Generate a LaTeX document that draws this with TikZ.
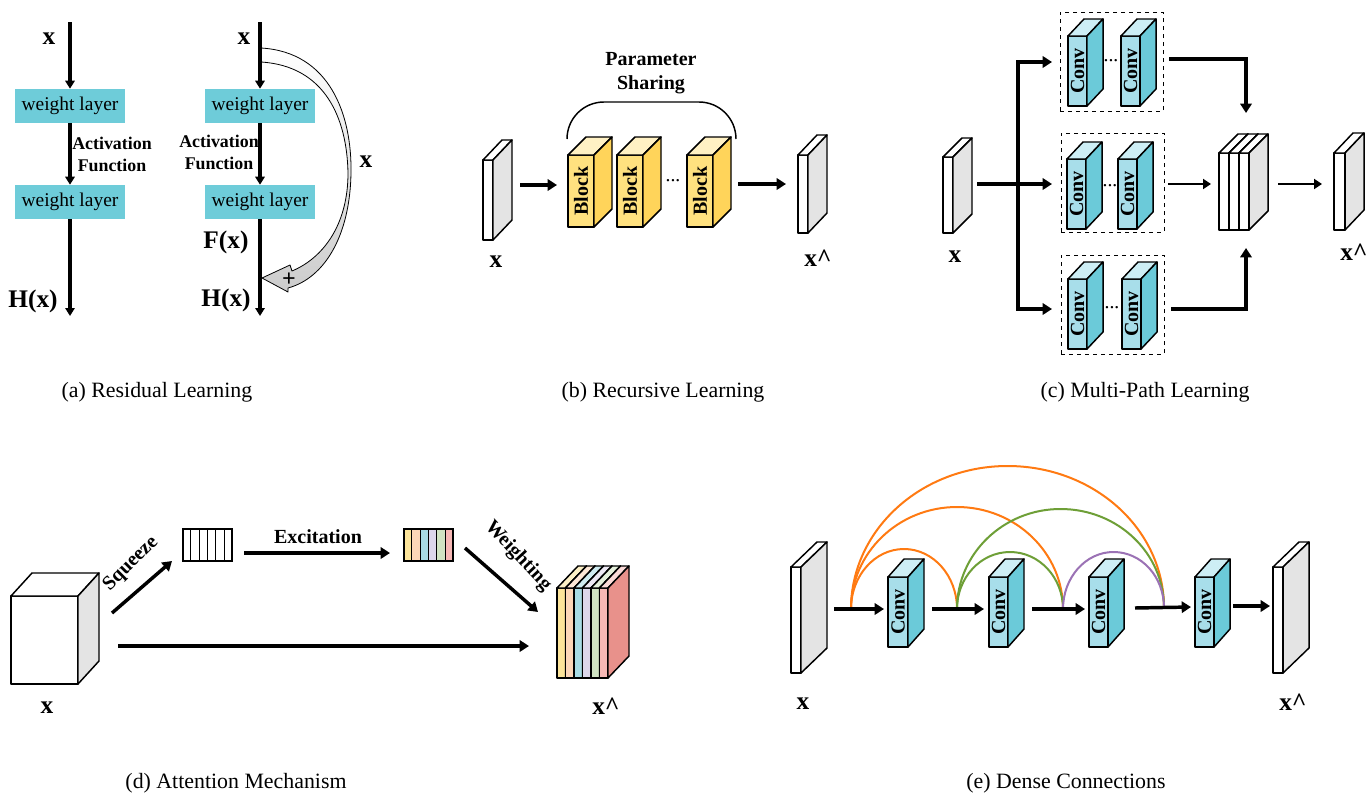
\documentclass[tikz,border=0pt]{standalone}
\usepackage{fontspec}
\setmainfont{Liberation Serif}
\usetikzlibrary{arrows.meta,fit,calc}

% face colours of the 3-D boxes: <palette>F front, <palette>T top, <palette>S side
\definecolor{wlcyan}{HTML}{6ECCD9}
\definecolor{slabF}{HTML}{FFFFFF}\definecolor{slabT}{HTML}{FFFFFF}\definecolor{slabS}{HTML}{E4E4E4}
\definecolor{convF}{HTML}{A8DEEA}\definecolor{convT}{HTML}{CDEEF5}\definecolor{convS}{HTML}{6BCAD9}
\definecolor{blockF}{HTML}{FFE17F}\definecolor{blockT}{HTML}{FFF1C4}\definecolor{blockS}{HTML}{FFD45A}
\definecolor{sAF}{HTML}{FCE49A}\definecolor{sAT}{HTML}{FDF0C6}\definecolor{sAS}{HTML}{E8918B}
\definecolor{sBF}{HTML}{FCD6B8}\definecolor{sBT}{HTML}{FDE7D6}\definecolor{sBS}{HTML}{E8918B}
\definecolor{sCF}{HTML}{A8DBE4}\definecolor{sCT}{HTML}{CFEBF0}\definecolor{sCS}{HTML}{E8918B}
\definecolor{sDF}{HTML}{DCD6EA}\definecolor{sDT}{HTML}{ECE8F3}\definecolor{sDS}{HTML}{E8918B}
\definecolor{sEF}{HTML}{D0E3C2}\definecolor{sET}{HTML}{E5F0DC}\definecolor{sES}{HTML}{E8918B}
\definecolor{sGF}{HTML}{F6B8B5}\definecolor{sGT}{HTML}{FADAD8}\definecolor{sGS}{HTML}{E8918B}
\definecolor{arcO}{HTML}{FF7A12}
\definecolor{arcG}{HTML}{6E9F37}
\definecolor{arcP}{HTML}{9B72B5}

\tikzset{
  cubeface/.style={draw=black, line width=1.1pt, line join=round, inner sep=0pt, outer sep=0pt},
  lbl/.style={font=\bfseries\fontsize{19}{20}\selectfont, inner sep=0pt},
  captext/.style={font=\fontsize{16.4}{18}\selectfont},
  wl/.style={fill=wlcyan, minimum width=82.5pt, minimum height=25.5pt, inner sep=0pt,
             font=\fontsize{14.6}{16}\selectfont},
  act/.style={font=\bfseries\fontsize{13.4}{16.5}\selectfont, align=center, inner sep=0pt},
  rottxt/.style={rotate=90, font=\bfseries\fontsize{15}{15}\selectfont, inner sep=0pt},
  btxt/.style={font=\bfseries\fontsize{15}{17.5}\selectfont, align=center, inner sep=0pt},
  dottxt/.style={font=\bfseries\fontsize{11}{11}\selectfont, inner sep=0pt},
  arr/.style={line width=2.6pt, -{Triangle[length=7pt,width=8.5pt]}},
  arrthin/.style={line width=1.9pt, -{Triangle[length=6pt,width=7.5pt]}},
  arrA/.style={line width=2.4pt, -{Triangle[length=6pt,width=7pt]}},
  arcline/.style={line width=1.5pt},
}

% \cuboid{name}{x1}{y1}{x2}{y2}{dx}{dy}{palette}: front face from (x1,y1) to (x2,y2), depth (dx,dy)
\newcommand\cuboid[8]{%
  \coordinate (#1-nw) at (#2,#3);
  \coordinate (#1-se) at (#4,#5);
  \node[cubeface, fill=#8F, fit=(#1-nw)(#1-se)] (#1) {};
  \draw[cubeface, fill=#8T] (#1.north west) -- ($(#1.north west)+(#6,#7)$)
       -- ($(#1.north east)+(#6,#7)$) -- (#1.north east) -- cycle;
  \draw[cubeface, fill=#8S] (#1.north east) -- ($(#1.north east)+(#6,#7)$)
       -- ($(#1.south east)+(#6,#7)$) -- (#1.south east) -- cycle;
}

% \halfarc[style]{from}{to}{height in px}: half-ellipse over a connection
\newcommand\halfarc[4][]{%
  \draw[arcline,#1] let \p1=(#2), \p2=(#3), \n1={(\x2-\x1)/2}, \n2={#4*0.75pt} in
    (\p1) .. controls (\x1,\y1+0.5523*\n2) and (\x1+0.4477*\n1,\y1+\n2) .. (\x1+\n1,\y1+\n2)
          .. controls (\x1+1.5523*\n1,\y1+\n2) and (\x2,\y2+0.5523*\n2) .. (\p2);
}

\begin{document}
\begin{tikzpicture}[x=0.75pt, y=-0.75pt]
\useasboundingbox (0,0) rectangle (1366,796);
\fill[white] (0,0) rectangle (1366,796);

%% ---------------- (a) residual learning ----------------
\node[wl] (wa1) at (70,106) {weight layer};
\node[wl] (wa2) at (70,202) {weight layer};
\coordinate (ta) at (70,22);
\coordinate (ea) at (70,316);
\draw[arrA] (ta) -- (wa1);
\draw[arrA] (wa1) -- (wa2);
\draw[arrA] (wa2) -- (ea);
\node[lbl] (xa) at (49,39) {x};
\node[act] (acta) at (112,154) {Activation\\Function};
\node[lbl] (ha) at (33,301) {H(x)};

% shortcut band with hollow head
\shade[top color=white, bottom color=gray!40, draw=black, line width=0.6pt, line join=round]
  (261,48) .. controls (330,52) and (352,115) .. (351,173)
           .. controls (350,235) and (325,278) .. (288,288)
  -- (288,292) -- (262,278) -- (290,265) -- (292,271)
           .. controls (323,258) and (348,225) .. (348,173)
           .. controls (347,118) and (325,66) .. (261,62);
\node[wl] (wb1) at (260,106) {weight layer};
\node[wl] (wb2) at (260,202) {weight layer};
\coordinate (tb) at (260,22);
\coordinate (eb) at (260,316);
\draw[arrA] (tb) -- (wb1);
\draw[arrA] (wb1) -- (wb2);
\draw[arrA] (wb2) -- (eb);
\node[font=\bfseries\fontsize{18}{18}\selectfont, inner sep=0pt] (plus) at (289,280) {+};
\node[lbl] (xb) at (244,39) {x};
\node[act] (actb) at (219,152) {Activation\\Function};
\node[lbl] (fb) at (226,242) {F(x)};
\node[lbl] (hb) at (226,300) {H(x)};
\node[lbl] (xskip) at (366,162) {x};
\node[captext] (capa) at (157,392) {(a) Residual Learning};

%% ---------------- (b) recursive learning ----------------
\cuboid{bin}{483}{160}{493}{240}{19}{-20}{slab}
\cuboid{blk1}{568}{155}{594}{227}{18}{-18}{block}
\cuboid{blk2}{617}{155}{643}{227}{18}{-18}{block}
\cuboid{blk3}{687}{155}{713}{227}{18}{-18}{block}
\cuboid{bout}{798}{155}{808}{233}{19}{-20}{slab}
\node[rottxt] (blk1t) at (blk1) {Block};
\node[rottxt] (blk2t) at (blk2) {Block};
\node[rottxt] (blk3t) at (blk3) {Block};
\node[dottxt] (bdots) at (673,182) {···};
\coordinate (b1s) at (520,185);
\coordinate (b1e) at (557,185);
\coordinate (b2s) at (738,184);
\coordinate (b2e) at (786,184);
\draw[arr] (b1s) -- (b1e);
\draw[arr] (b2s) -- (b2e);
\coordinate (brl) at (567,139);
\coordinate (brr) at (736,139);
\draw[line width=1.1pt] (brl) to[out=90,in=180] (604,102) -- (699,102) to[out=0,in=90] (brr);
\node[btxt] (share) at (651,73) {Parameter\\Sharing};
\node[lbl] (xbin) at (496,262) {x};
\node[lbl] (xbout) at (818,258) {x\textasciicircum};
\node[captext] (capb) at (663,392) {(b) Recursive Learning};

%% ---------------- (c) multi-path learning ----------------
\cuboid{cin}{943}{157}{953}{233}{19}{-19}{slab}
\node[draw, dashed, line width=0.6pt, fit={(1060,12)(1163,111)}, inner sep=0pt] (pt) {};
\node[draw, dashed, line width=0.6pt, fit={(1061,133)(1164,232)}, inner sep=0pt] (pm) {};
\node[draw, dashed, line width=0.6pt, fit={(1061,255)(1164,354)}, inner sep=0pt] (pb) {};
\cuboid{ct1}{1068}{36}{1087}{106}{16}{-17}{conv}
\cuboid{ct2}{1121}{36}{1140}{106}{16}{-17}{conv}
\cuboid{cm1}{1067}{159}{1086}{229}{16}{-17}{conv}
\cuboid{cm2}{1118}{159}{1137}{229}{16}{-17}{conv}
\cuboid{cb1}{1068}{279}{1087}{349}{16}{-17}{conv}
\cuboid{cb2}{1122}{279}{1141}{349}{16}{-17}{conv}
\foreach \n in {ct1,ct2,cm1,cm2,cb1,cb2} {\node[rottxt] (\n t) at (\n) {Conv};}
\node[dottxt] (ctd) at (1111,62) {···};
\node[dottxt] (cmd) at (1110,187) {···};
\node[dottxt] (cbd) at (1112,309) {···};
\cuboid{cc1}{1219}{153}{1229}{230}{19}{-19}{slab}
\cuboid{cc2}{1229}{153}{1239}{230}{19}{-19}{slab}
\cuboid{cc3}{1239}{153}{1249}{230}{19}{-19}{slab}
\cuboid{cout}{1334}{153}{1345}{230}{19}{-20}{slab}
\coordinate (cs) at (977,184);
\coordinate (cj) at (1018,184);
\coordinate (cmi) at (1052,184);
\coordinate (cti) at (1052,62);
\coordinate (cbi) at (1052,309);
\draw[arr] (cs) -- (cmi);
\draw[arr, line join=miter] (cj) |- (cti);
\draw[arr, line join=miter] (cj) |- (cbi);
\coordinate (cto) at (1169,59);
\coordinate (ctc) at (1246,113);
\coordinate (cmo) at (1168,184);
\coordinate (cmc) at (1211,184);
\coordinate (cbo) at (1171,309);
\coordinate (cbc) at (1246,248);
\draw[arr, line join=miter] (cto) -| (ctc);
\draw[arrthin] (cmo) -- (cmc);
\draw[arr, line join=miter] (cbo) -| (cbc);
\coordinate (cos) at (1278,184);
\coordinate (coe) at (1322,184);
\draw[arrthin] (cos) -- (coe);
\node[lbl] (xcin) at (955,257) {x};
\node[lbl, anchor=west] (xcout) at (1340,252) {x\textasciicircum};
\node[captext] (capc) at (1145,392) {(c) Multi-Path Learning};

%% ---------------- (d) attention mechanism ----------------
\cuboid{dcube}{11}{596}{78}{684}{21}{-23}{slab}
\foreach \c [count=\i from 0] in {sAF,sBF,sCF,sDF,sEF,sGF}
  \fill[\c] (404+\i*8.1667,529) rectangle ++(8.1667,32);
\node[draw, line width=0.9pt, fit={(183,529)(232,561)}, inner sep=0pt] (dsq) {};
\node[draw, line width=0.9pt, fit={(404,529)(453,561)}, inner sep=0pt] (dex) {};
\foreach \i in {1,...,5} {
  \draw[line width=0.9pt] ($(dsq.north west)!\i/6!(dsq.north east)$) -- ($(dsq.south west)!\i/6!(dsq.south east)$);
  \draw[line width=0.9pt] ($(dex.north west)!\i/6!(dex.north east)$) -- ($(dex.south west)!\i/6!(dex.south east)$);
}
\cuboid{ds1}{557}{588}{565.5}{678}{21}{-22}{sA}
\cuboid{ds2}{565.5}{588}{574}{678}{21}{-22}{sB}
\cuboid{ds3}{574}{588}{582.5}{678}{21}{-22}{sC}
\cuboid{ds4}{582.5}{588}{591}{678}{21}{-22}{sD}
\cuboid{ds5}{591}{588}{599.5}{678}{21}{-22}{sE}
\cuboid{ds6}{599.5}{588}{608}{678}{21}{-22}{sG}
\coordinate (dq1) at (112,613);
\coordinate (dq2) at (172,561);
\coordinate (de1) at (244,553);
\coordinate (de2) at (390,553);
\coordinate (dw1) at (465,548);
\coordinate (dw2) at (538,612);
\coordinate (dl1) at (118,646);
\coordinate (dl2) at (529,646);
\draw[arr] (dq1) -- (dq2);
\draw[arr] (de1) -- (de2);
\draw[arr] (dw1) -- (dw2);
\draw[arr] (dl1) -- (dl2);
\node[btxt, rotate=45] (dsqz) at (131,564) {Squeeze};
\node[btxt] (dexc) at (318,537) {Excitation};
\node[btxt, rotate=-47] (dwgt) at (518,556) {Weighting};
\node[lbl] (xdin) at (47,708) {x};
\node[lbl] (xdout) at (606,706) {x\textasciicircum};
\node[captext] (capd) at (236,783) {(d) Attention Mechanism};

%% ---------------- (e) dense connections ----------------
\coordinate (P0) at (851,609);
\coordinate (P1) at (957,609);
\coordinate (P2) at (1063,609);
\coordinate (P3) at (1164,608);
\halfarc[arcO]{P0}{P3}{143}
\halfarc[arcO]{P0}{P2}{102}
\halfarc[arcO]{P0}{P1}{60}
\halfarc[arcG]{P1}{P3}{100}
\halfarc[arcG]{P1}{P2}{57}
\halfarc[arcP]{P2}{P3}{57}
\cuboid{ein}{791}{567}{801}{673}{26}{-25}{slab}
\cuboid{ec1}{888}{577}{908}{647}{16}{-18}{conv}
\cuboid{ec2}{989}{577}{1008}{647}{16}{-18}{conv}
\cuboid{ec3}{1089}{577}{1108}{647}{16}{-18}{conv}
\cuboid{ec4}{1195}{577}{1214}{647}{16}{-18}{conv}
\cuboid{eout}{1273}{567}{1283}{673}{26}{-25}{slab}
\foreach \n in {ec1,ec2,ec3,ec4} {\node[rottxt] (\n t) at (\n) {Conv};}
\coordinate (e1s) at (834,609);  \coordinate (e1e) at (884,609);
\coordinate (e2s) at (932,609);  \coordinate (e2e) at (984,609);
\coordinate (e3s) at (1032,609); \coordinate (e3e) at (1085,609);
\coordinate (e4s) at (1135,608); \coordinate (e4e) at (1191,607);
\coordinate (e5s) at (1233,606); \coordinate (e5e) at (1270,606);
\draw[arr] (e1s) -- (e1e);
\draw[arr] (e2s) -- (e2e);
\draw[arr] (e3s) -- (e3e);
\draw[arr] (e4s) -- (e4e);
\draw[arr] (e5s) -- (e5e);
\node[lbl] (xein) at (803,704) {x};
\node[lbl] (xeout) at (1293,702) {x\textasciicircum};
\node[captext] (cape) at (1066,783) {(e) Dense Connections};
\end{tikzpicture}
\end{document}
